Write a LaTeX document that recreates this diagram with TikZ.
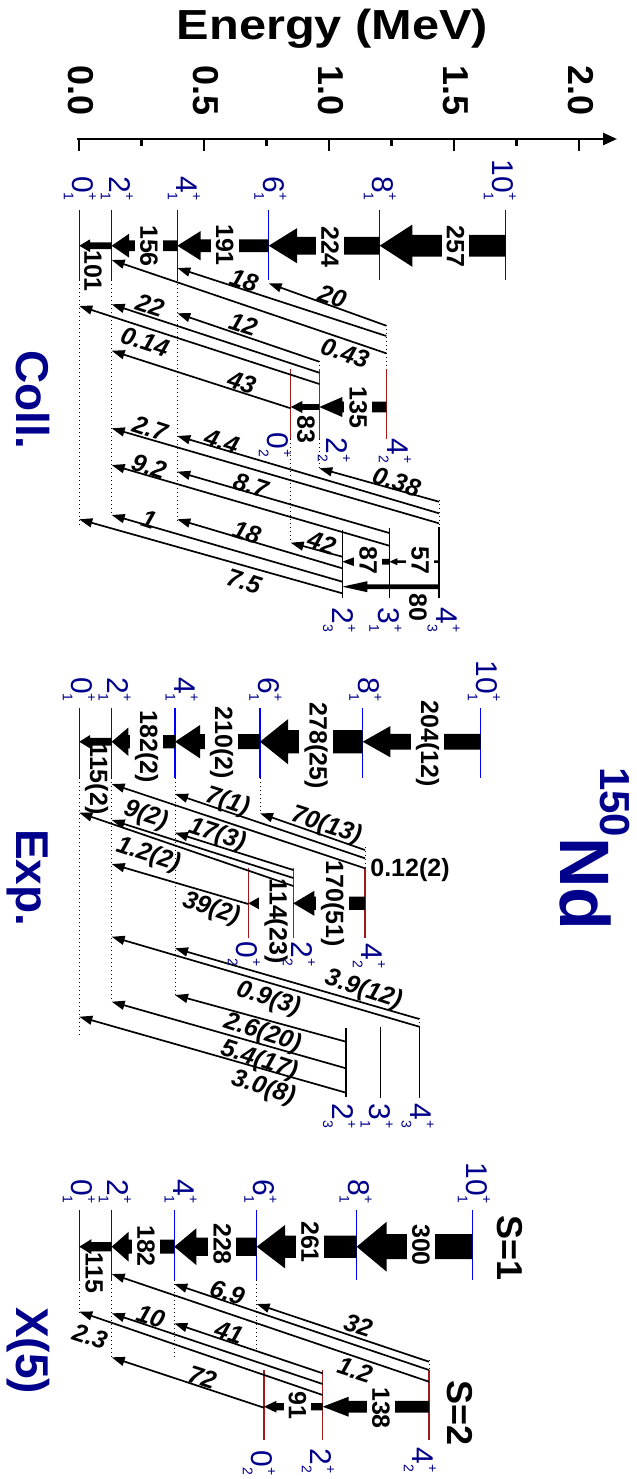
\documentclass[tikz,border=0pt]{standalone}
\usepackage{fontspec}
\setmainfont{Liberation Sans}
\usetikzlibrary{arrows.meta}
\definecolor{lvblue}{RGB}{0,0,255}
\definecolor{lvred}{RGB}{165,25,25}
\definecolor{navyc}{RGB}{0,0,140}
\newcommand\lv[2]{#1\makebox[0pt][l]{\raisebox{0.5em}{\fontsize{7pt}{7pt}\selectfont +}}\raisebox{-0.3em}{\fontsize{7pt}{7pt}\selectfont #2}}
\newcommand\bigarrow[7]{%
  \coordinate (#1f) at (#3,#2);
  \coordinate (#1t) at (#4,#2);
  \fill ({#3},{#2-#5/2}) -- ({#4+#7},{#2-#5/2}) -- ({#4+#7},{#2-#6/2}) -- (#1t) -- ({#4+#7},{#2+#6/2}) -- ({#4+#7},{#2+#5/2}) -- ({#3},{#2+#5/2}) -- cycle;}
\newcommand\tarr[3]{%
  \coordinate (#1s) at (#2);
  \coordinate (#1e) at (#3);
  \draw[tline] (#1s) -- (#1e);}
\begin{document}
\begin{tikzpicture}[x=0.5pt,y=-0.5pt,
  lvlab/.style={rotate=-90, inner sep=0pt, text=navyc, font=\fontsize{15pt}{15pt}\selectfont},
  bignum/.style={rotate=-90, inner xsep=0pt, inner ysep=2.5pt, fill=white, font=\fontsize{12.5pt}{12.5pt}\selectfont\bfseries},
  bignumb/.style={rotate=-90, inner sep=0pt, font=\fontsize{12.5pt}{12.5pt}\selectfont\bfseries},
  tlab/.style={rotate=-18, inner sep=0pt, font=\fontsize{12.5pt}{12.5pt}\selectfont\bfseries\itshape},
  tline/.style={line width=0.85pt, -{Triangle[length=6.5pt,width=4.5pt]}},
  yrline/.style={lvblue, line width=0.65pt},
  bdline/.style={lvred, line width=0.65pt},
  gmline/.style={black, line width=0.65pt},
  dotline/.style={line width=0.5pt, dash pattern=on 0.5pt off 1.5pt},
  sectitle/.style={rotate=-90, anchor=base west, text=navyc, font=\fontsize{23pt}{23pt}\selectfont\bfseries},
  ticklab/.style={rotate=-90, anchor=east, font=\fontsize{18pt}{18pt}\selectfont\bfseries},
  axisline/.style={line width=1.25pt}]
\fill[white] (0,0) rectangle (637,1479);
\useasboundingbox (0,0) rectangle (637,1479);

% ---------------- axis ----------------
\node[font=\fontsize{21pt}{21pt}\selectfont\bfseries, anchor=base, xscale=1.16] (etitle) at (332.5,39.3) {Energy (MeV)};
\coordinate (ax0) at (77,139);
\coordinate (ax1) at (617,139);
\draw[axisline, -{Triangle[length=7pt,width=6pt]}] (ax0) -- (ax1);
\foreach \x in {79,204,329,454,579} \draw[axisline] (\x,137.5) -- (\x,151);
\foreach \x in {141.5,266.5,391.5,516.5} \draw[axisline] (\x,137.5) -- (\x,146);
\node[ticklab] (t0) at (81,123) {0.0};
\node[ticklab] (t1) at (206,123) {0.5};
\node[ticklab] (t2) at (331,123) {1.0};
\node[ticklab] (t3) at (456,123) {1.5};
\node[ticklab] (t4) at (581,123) {2.0};

% ---------------- titles ----------------
\node[sectitle] (tcoll) at (17,343) {Coll.};
\node[sectitle] (texp) at (17,822) {Exp.};
\node[sectitle] (tx5) at (17,1300) {X(5)};
\node[rotate=-90, anchor=base west, text=navyc, font=\bfseries] (nd) at (560,760) {\raisebox{20pt}{\fontsize{21pt}{21pt}\selectfont 150}\fontsize{35pt}{35pt}\selectfont Nd};
\node[rotate=-90, anchor=base west, font=\fontsize{18pt}{18pt}\selectfont\bfseries] (s1) at (497,1208) {S=1};
\node[rotate=-90, anchor=base west, font=\fontsize{18pt}{18pt}\selectfont\bfseries] (s2) at (447,1373) {S=2};

% ================= Coll. =================
\foreach \x in {79.3,111.7,177.3,268.7,379.7,505.7} \draw[yrline] (\x,210) -- (\x,280);
\draw[dotline] (79.3,280) -- (79.3,527);
\draw[dotline] (111.7,280) -- (111.7,515);
\draw[dotline] (177.3,280) -- (177.3,521);
\foreach \x in {290.7,319.3,386.3} \draw[bdline] (\x,369) -- (\x,439);
\draw[dotline] (319.3,361) -- (319.3,369);
\draw[dotline] (319.3,439) -- (319.3,468);
\draw[dotline] (386.3,325) -- (386.3,369);
\draw[dotline] (290.7,439) -- (290.7,543);
\draw[gmline] (342.3,530) -- (342.3,598);
\draw[gmline] (389.3,528) -- (389.3,598);
\draw[gmline] (439,527) -- (439,598);
\draw[dotline] (439,500) -- (439,527);

\bigarrow{c108}{245.7}{505.7}{379.7}{21.7}{42.3}{32.7}
\bigarrow{c86}{245.7}{379.7}{268.7}{17.7}{35}{28.3}
\bigarrow{c64}{245.7}{268.7}{177.3}{12.7}{29.3}{23.3}
\bigarrow{c42}{245.7}{177.3}{111.7}{10.7}{23.7}{17.3}
\bigarrow{c20}{245.7}{111.7}{79.3}{6.7}{12.7}{10.7}
\bigarrow{cb42}{407}{386.3}{319.3}{10.7}{20}{23}
\bigarrow{cb20}{407}{319.3}{290.7}{5.7}{12}{11.6}
\bigarrow{cg4a}{586.7}{439}{342.3}{4.7}{11}{25}
\bigarrow{cg43}{561.7}{439}{389.3}{2.5}{7}{8}
\bigarrow{cg32}{561.7}{389.3}{342.3}{5.7}{10}{13.3}

\node[bignum] (c108l) at (455.5,246.5) {257};
\node[bignum] (c86l) at (330,247) {224};
\node[bignum] (c64l) at (224.7,245) {191};
\node[bignum] (c42l) at (149,246) {156};
\node[bignumb] (c20l) at (93,271) {101};
\node[bignum] (cb42l) at (358.3,407.5) {135};
\node[bignumb] (cb20l) at (306,429) {83};
\node[bignumb] (cg4al) at (418,607.5) {80};
\node[bignum] (cg43l) at (420,560.7) {57};
\node[bignum] (cg32l) at (368.3,560.7) {87};

\tarr{c1}{386.3,325.7}{268.7,283.3}
\tarr{c2}{386.3,336}{177.3,268}
\tarr{c3}{386.3,353.3}{111.7,260}
\tarr{c4}{319.3,361.7}{177.3,313.3}
\tarr{c5}{319.3,372.7}{111.7,304.3}
\tarr{c6}{319.3,384}{79.3,306}
\tarr{c7}{290.7,408.3}{111.7,350.7}
\tarr{c8}{439,501.7}{319.3,468.3}
\tarr{c9}{439,513.3}{177.3,436}
\tarr{c10}{439,523.3}{111.7,428.3}
\tarr{c11}{389.3,533}{177.3,471.7}
\tarr{c12}{389.3,545.7}{111.7,465}
\tarr{c13}{342.3,556.7}{290.7,542.7}
\tarr{c14}{342.3,568.3}{177.3,519.3}
\tarr{c15}{342.3,581.7}{111.7,515}
\tarr{c16}{342.3,593.3}{79.3,519.3}

\node[tlab] (c1l) at (332.3,296.7) {20};
\node[tlab] (c2l) at (244,280.7) {18};
\node[tlab] (c3l) at (345,353) {0.43};
\node[tlab] (c4l) at (243.3,324) {12};
\node[tlab] (c5l) at (150,305) {22};
\node[tlab] (c6l) at (145,341.7) {0.14};
\node[tlab] (c7l) at (241.7,382.3) {43};
\node[tlab] (c8l) at (396.7,481.7) {0.38};
\node[tlab] (c9l) at (221.7,441.7) {4.4};
\node[tlab] (c10l) at (150,428.3) {2.7};
\node[tlab] (c11l) at (250.7,485.7) {8.7};
\node[tlab] (c12l) at (149,466.7) {9.2};
\node[tlab] (c13l) at (321.7,542.7) {42};
\node[tlab] (c14l) at (246.7,532.7) {18};
\node[tlab] (c15l) at (149,519) {1};
\node[tlab] (c16l) at (244,581.7) {7.5};

\node[lvlab, anchor=east] (cl01) at (80,201) {\lv{0}{1}};
\node[lvlab, anchor=east] (cl21) at (117,201) {\lv{2}{1}};
\node[lvlab, anchor=east] (cl41) at (184,201) {\lv{4}{1}};
\node[lvlab, anchor=east] (cl61) at (270.5,201) {\lv{6}{1}};
\node[lvlab, anchor=east] (cl81) at (380,201) {\lv{8}{1}};
\node[lvlab, anchor=east] (cl101) at (500,201) {\lv{10}{1}};
\node[lvlab, anchor=west] (cl02) at (275,432) {\lv{0}{2}};
\node[lvlab, anchor=west] (cl22) at (334,437) {\lv{2}{2}};
\node[lvlab, anchor=west] (cl42) at (395,438) {\lv{4}{2}};
\node[lvlab, anchor=west] (cl23) at (339,607) {\lv{2}{3}};
\node[lvlab, anchor=west] (cl31) at (385.5,607) {\lv{3}{1}};
\node[lvlab, anchor=west] (cl43) at (443.7,607) {\lv{4}{3}};

% ================= Exp. =================
\foreach \x in {79.3,111.7,175,260,362.7,480.7} \draw[yrline] (\x,708.3) -- (\x,778.3);
\draw[dotline] (79.3,778.3) -- (79.3,1037);
\draw[dotline] (111.7,778.3) -- (111.7,1002);
\draw[dotline] (175,778.3) -- (175,995);
\draw[dotline] (260,778.3) -- (260,813.3);
\foreach \x in {248.3,293.3,365} \draw[bdline] (\x,868.3) -- (\x,938.3);
\draw[dotline] (365,847) -- (365,868.3);
\draw[gmline] (346,1028.3) -- (346,1096.7);
\draw[gmline] (380.7,1027.3) -- (380.7,1098.3);
\draw[gmline] (419.3,1026.7) -- (419.3,1098.3);
\draw[dotline] (419.3,1018) -- (419.3,1026.7);

\bigarrow{e108}{741.7}{480.7}{362.7}{15.7}{31.3}{27.7}
\bigarrow{e86}{741.7}{362.7}{260}{23.3}{45}{28}
\bigarrow{e64}{741.7}{260}{175}{15}{33.3}{25}
\bigarrow{e42}{741.7}{175}{111.7}{13.3}{28.3}{16.6}
\bigarrow{e20}{741.7}{111.7}{79.3}{7.7}{13.3}{10.7}
\bigarrow{eb42}{903.3}{365}{293.3}{13.3}{25}{21}
\bigarrow{eb20}{903.3}{293.3}{248.3}{7.3}{16.7}{15}

\node[bignum] (e108l) at (427.5,744) {204(12)};
\node[bignum] (e86l) at (316,745.5) {278(25)};
\node[bignum] (e64l) at (221.7,743) {210(2)};
\node[bignum] (e42l) at (146.7,746.7) {182(2)};
\node[bignumb] (e20l) at (96.7,779) {115(2)};
\node[bignum] (eb42l) at (332.5,904) {170(51)};
\node[bignum] (eb20l) at (276,921) {114(23)};

\tarr{e1}{365,850}{260,813.3}
\tarr{e2}{365,858.3}{175,794}
\tarr{e3}{365,868.3}{111.7,784}
\tarr{e4}{293.3,870}{175,832.7}
\tarr{e5}{293.3,878}{111.7,820}
\tarr{e6}{293.3,886}{79.3,812.7}
\tarr{e7}{248.3,904}{111.7,864}
\tarr{e8}{419.3,1019}{175,948.3}
\tarr{e9}{419.3,1026.7}{111.7,936.7}
\tarr{e10}{346,1041.7}{175,995}
\tarr{e11}{346,1068.3}{111.7,1001.7}
\tarr{e12}{346,1092.7}{79.3,1016.7}

\node[tlab] (e1l) at (326.2,826) {70(13)};
\node[tlab] (e2l) at (227.3,802.3) {7(1)};
\node[inner sep=0pt, font=\fontsize{12.5pt}{12.5pt}\selectfont\bfseries] (e3l) at (410,870) {0.12(2)};
\node[tlab] (e4l) at (217,835) {17(3)};
\node[tlab] (e5l) at (145.7,815.7) {9(2)};
\node[tlab] (e6l) at (148.3,855) {1.2(2)};
\node[tlab] (e7l) at (211,909) {39(2)};
\node[tlab] (e8l) at (363.3,990) {3.9(12)};
\node[tlab] (e9l) at (268.3,999.3) {0.9(3)};
\node[tlab] (e11l) at (262.3,1033.3) {2.6(20)};
\node[tlab] (e12l) at (259,1060.7) {5.4(17)};
\node[tlab] (e13l) at (263.3,1088.3) {3.0(8)};

\node[lvlab, anchor=east] (el01) at (79,702) {\lv{0}{1}};
\node[lvlab, anchor=east] (el21) at (114.7,702) {\lv{2}{1}};
\node[lvlab, anchor=east] (el41) at (181.7,702) {\lv{4}{1}};
\node[lvlab, anchor=east] (el61) at (265.5,702) {\lv{6}{1}};
\node[lvlab, anchor=east] (el81) at (365.5,702) {\lv{8}{1}};
\node[lvlab, anchor=east] (el101) at (484,702) {\lv{10}{1}};
\node[lvlab, anchor=west] (el02) at (244,941) {\lv{0}{2}};
\node[lvlab, anchor=west] (el22) at (299,941) {\lv{2}{2}};
\node[lvlab, anchor=west] (el42) at (369,943) {\lv{4}{2}};
\node[lvlab, anchor=west] (el23) at (339,1103) {\lv{2}{3}};
\node[lvlab, anchor=west] (el31) at (376.7,1103) {\lv{3}{1}};
\node[lvlab, anchor=west] (el43) at (417.5,1103) {\lv{4}{3}};

% ================= X(5) =================
\foreach \x in {79.3,111.7,174.3,256.7,356.7,472.3} \draw[yrline] (\x,1210) -- (\x,1280);
\draw[dotline] (79.3,1280) -- (79.3,1313);
\draw[dotline] (111.7,1280) -- (111.7,1358.3);
\draw[dotline] (174.3,1280) -- (174.3,1360);
\draw[dotline] (256.7,1280) -- (256.7,1348.3);
\foreach \x in {264,322.7,429} \draw[bdline] (\x,1370) -- (\x,1440);
\draw[dotline] (429,1360) -- (429,1370);

\bigarrow{x108}{1246.7}{472.3}{356.7}{25}{50}{30}
\bigarrow{x86}{1246.7}{356.7}{256.7}{22.3}{43.3}{28.3}
\bigarrow{x64}{1246.7}{256.7}{174.3}{18.3}{36.7}{22}
\bigarrow{x42}{1246.7}{174.3}{111.7}{14}{30}{17}
\bigarrow{x20}{1246.7}{111.7}{79.3}{9.3}{15}{12}
\bigarrow{xb42}{1406.7}{429}{322.7}{11.7}{20}{26}
\bigarrow{xb20}{1406.7}{322.7}{264}{7.3}{11.7}{12.3}

\node[bignum] (x108l) at (421,1245) {300};
\node[bignum] (x86l) at (310,1242) {261};
\node[bignum] (x64l) at (222.3,1244) {228};
\node[bignum] (x42l) at (146,1246) {182};
\node[bignumb] (x20l) at (94,1273) {115};
\node[bignum] (xb42l) at (381,1408) {138};
\node[bignum] (xb20l) at (297.5,1405.5) {91};

\tarr{x1}{429,1361.7}{256.7,1304}
\tarr{x2}{429,1370}{174.3,1284}
\tarr{x3}{429,1381.7}{111.7,1274}
\tarr{x4}{322.7,1373.3}{174.3,1323.3}
\tarr{x5}{322.7,1384}{111.7,1313.3}
\tarr{x6}{322.7,1395}{79.3,1311.7}
\tarr{x7}{264,1407.7}{111.7,1357.3}

\node[tlab] (x1l) at (358.3,1325.7) {32};
\node[tlab] (x2l) at (227.3,1292.3) {6.9};
\node[tlab] (x3l) at (355,1370) {1.2};
\node[tlab] (x4l) at (229,1332.3) {41};
\node[tlab] (x5l) at (150.7,1316.7) {10};
\node[tlab] (x6l) at (90,1336.7) {2.3};
\node[tlab] (x7l) at (202.3,1377.3) {72};

\node[lvlab, anchor=east] (xl01) at (79,1204) {\lv{0}{1}};
\node[lvlab, anchor=east] (xl21) at (115,1204) {\lv{2}{1}};
\node[lvlab, anchor=east] (xl41) at (180.7,1204) {\lv{4}{1}};
\node[lvlab, anchor=east] (xl61) at (260.5,1204) {\lv{6}{1}};
\node[lvlab, anchor=east] (xl81) at (355.7,1204) {\lv{8}{1}};
\node[lvlab, anchor=east] (xl101) at (474,1204) {\lv{10}{1}};
\node[lvlab, anchor=west] (xl02) at (259,1450) {\lv{0}{2}};
\node[lvlab, anchor=west] (xl22) at (318,1448) {\lv{2}{2}};
\node[lvlab, anchor=west] (xl42) at (420,1447) {\lv{4}{2}};
\end{tikzpicture}
\end{document}
